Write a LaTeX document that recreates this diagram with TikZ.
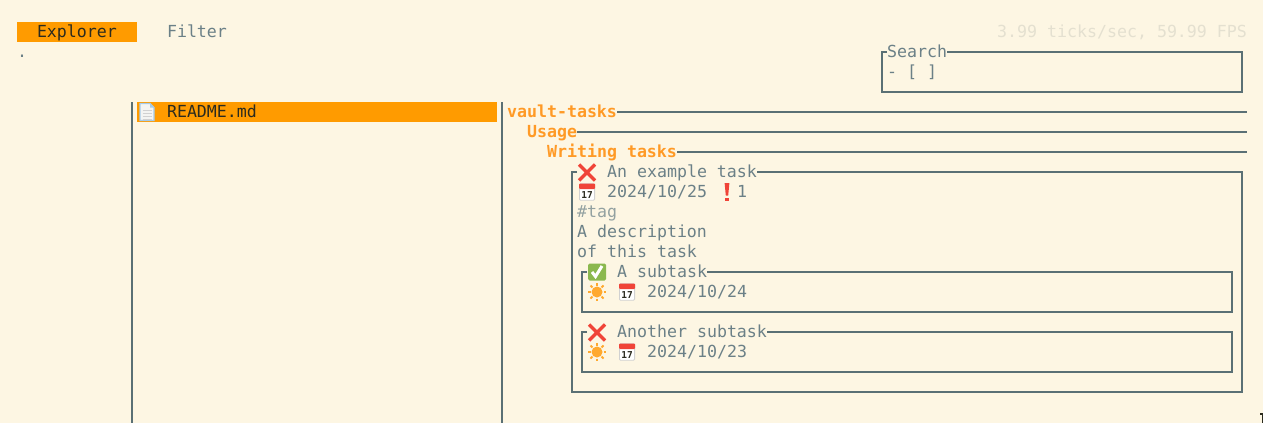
\documentclass[tikz,border=0pt]{standalone}
\usepackage{fontspec}
\setmainfont{DejaVu Sans Mono}
\definecolor{bgc}{HTML}{FDF6E3}
\definecolor{linec}{HTML}{5A7075}
\definecolor{textc}{HTML}{6B8087}
\definecolor{dimc}{HTML}{93A1A1}
\definecolor{faintc}{HTML}{E4E0D0}
\definecolor{orangec}{HTML}{FF9B00}
\definecolor{headc}{HTML}{FF9A26}
\definecolor{darkc}{HTML}{2B2B1F}
\definecolor{redc}{HTML}{F04438}
\definecolor{greenc}{HTML}{8BB84E}
\definecolor{sunc}{HTML}{FFA92E}
\definecolor{docline}{HTML}{A5CBEA}
\definecolor{docfill}{HTML}{F4F4F2}
\tikzset{
  txt/.style={inner sep=0pt,outer sep=0pt,anchor=base west,text=textc,font=\fontsize{16.61}{20}\selectfont},
  head/.style={txt,text=headc,font=\fontsize{16.61}{20}\selectfont\bfseries},
  border/.style={draw=linec,line width=2pt,line cap=butt,line join=miter},
  hl/.style={fill=orangec,draw=none},
  crossicon/.pic={
    \draw[redc,line width=3.4pt] (-8,-8) -- (8,8) (-8,8) -- (8,-8);
  },
  calicon/.pic={
    \draw[fill=white,draw=black!18,line width=0.8pt,rounded corners=1pt] (-7.6,-8.2) rectangle (7.6,8.2);
    \fill[redc,rounded corners=1pt] (-8,-8.5) rectangle (8,-3);
    \node[inner sep=0pt,text=darkc,font=\fontsize{9.5}{9.5}\selectfont\bfseries] at (0,2.8) {17};
  },
  checkicon/.pic={
    \fill[greenc,rounded corners=1.5pt] (-9,-8.5) rectangle (9,8.5);
    \draw[white,line width=3pt] (-5,0) -- (-1.5,4.5) -- (5,-6);
  },
  sunicon/.pic={
    \fill[sunc] (0,0) circle (5.5pt);
    \foreach \a in {0,45,...,315}
      \draw[sunc,line width=2pt] (\a:6.5) -- (\a:9.2);
  },
  bangicon/.pic={
    \fill[redc] (-2.4,-9) -- (2.4,-9) -- (1.2,3.5) -- (-1.2,3.5) -- cycle;
    \fill[redc] (-1.6,5.6) rectangle (1.6,9);
  },
  docicon/.pic={
    \draw[fill=docfill,draw=docline,line width=1.2pt] (-7,-8.5) -- (3,-8.5) -- (7,-4.5) -- (7,8.5) -- (-7,8.5) -- cycle;
    \fill[docline] (3,-8.5) -- (7,-4.5) -- (3,-4.5) -- cycle;
    \foreach \y in {-2,1,4,7}
      \draw[black!18,line width=1pt] (-4.5,\y) -- (4.5,\y);
  }
}
\newcommand{\cell}[5][txt]{\node[#1] (#2) at (#3,#4+5) {#5};}
\begin{document}
\begin{tikzpicture}[x=1pt,y=-1pt]
\useasboundingbox (0,0) rectangle (1263,423);
\fill[bgc] (0,0) rectangle (1263,423);
% highlights
\fill[hl] (17,22) rectangle (137,42);
\fill[hl] (137,102) rectangle (497,122);
% tabs
\cell[txt,text=darkc]{explorer}{37}{32}{Explorer}
\cell{filter}{167}{32}{Filter}
\cell{dot}{17}{52}{.}
\cell[txt,text=faintc]{ticks}{997}{32}{3.99 ticks/sec, 59.99 FPS}
% search
\cell{search}{887}{52}{Search}
\cell{query}{887}{72}{- [ ]}
\draw[border] ([yshift=5pt]search.base west) -- (882,52) -- (882,92) -- (1242,92) -- (1242,52) -- ([yshift=5pt]search.base east);
% panes
\draw[border] (132,102) -- (132,423);
\draw[border] (502,102) -- (502,423);
\pic at (147,112) {docicon};
\cell[txt,text=darkc]{readme}{167}{112}{README.md}
% headings
\cell[head]{vault}{507}{112}{vault-tasks}
\cell[head]{usage}{527}{132}{Usage}
\cell[head]{writing}{547}{152}{Writing tasks}
\draw[border] ([yshift=5pt]vault.base east) -- (1247,112);
\draw[border] ([yshift=5pt]usage.base east) -- (1247,132);
\draw[border] ([yshift=5pt]writing.base east) -- (1247,152);
% task
\pic at (587,172.5) {crossicon};
\cell{task}{607}{172}{An example task}
\pic at (587,192) {calicon};
\cell{date}{607}{192}{2024/10/25}
\pic at (727,192) {bangicon};
\cell{prio}{737}{192}{1}
\cell[txt,text=dimc]{tag}{577}{212}{\#tag}
\cell{desca}{577}{232}{A description}
\cell{descb}{577}{252}{of this task}
\draw[border] (577,172) -- (572,172) -- (572,392) -- (1242,392) -- (1242,172) -- ([yshift=5pt]task.base east);
% subtask 1
\pic at (597,272) {checkicon};
\cell{suba}{617}{272}{A subtask}
\pic at (597,292) {sunicon};
\pic at (627,292) {calicon};
\cell{subadate}{647}{292}{2024/10/24}
\draw[border] (587,272) -- (582,272) -- (582,312) -- (1232,312) -- (1232,272) -- ([yshift=5pt]suba.base east);
% subtask 2
\pic at (597,332.5) {crossicon};
\cell{subb}{617}{332}{Another subtask}
\pic at (597,352) {sunicon};
\pic at (627,352) {calicon};
\cell{subbdate}{647}{352}{2024/10/23}
\draw[border] (587,332) -- (582,332) -- (582,372) -- (1232,372) -- (1232,332) -- ([yshift=5pt]subb.base east);
% corner mark
\fill[darkc] (1260,413) rectangle (1263,414.5);
\fill[darkc] (1261.5,413) rectangle (1263,423);
\end{tikzpicture}
\end{document}
